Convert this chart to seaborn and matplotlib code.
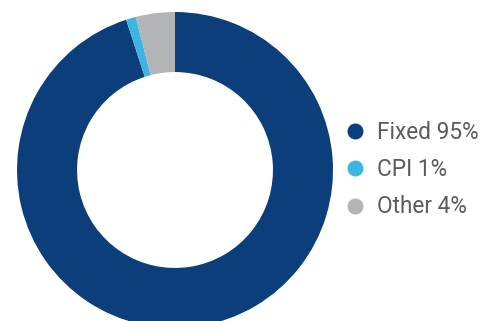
import matplotlib
matplotlib.use("Agg")
import matplotlib.pyplot as plt
from matplotlib.lines import Line2D
import seaborn as sns

categories = ["Fixed", "CPI", "Other"]
shares = [95, 1, 4]
colors = ["#0d3e7c", "#3db5e1", "#b2b4b6"]

sns.set_theme(style="white")
plt.rcParams["font.family"] = ["Roboto", "DejaVu Sans"]

fig = plt.figure(figsize=(4.82, 3.21), dpi=100)
W, H = 482, 321
cx, cy, r = 175, 170, 158
ax = fig.add_axes([(cx - r) / W, (H - cy - r) / H, 2 * r / W, 2 * r / H])

ax.pie(shares, colors=colors, startangle=90, counterclock=False, radius=1,
       wedgeprops=dict(width=0.38, linewidth=0))
ax.set_xlim(-1, 1)
ax.set_ylim(-1, 1)
ax.set_aspect("equal")
ax.axis("off")

handles = [Line2D([0], [0], marker="o", linestyle="none", markersize=11.5,
                  markerfacecolor=c, markeredgewidth=0) for c in colors]
labels = [f"{c} {v}%" for c, v in zip(categories, shares)]
leg = fig.legend(handles, labels, loc="center left",
                 bbox_to_anchor=(343.9 / W, (H - 169.5) / H),
                 frameon=False, fontsize=16.3, handlelength=1.0,
                 handletextpad=0.45, labelspacing=0.64, borderpad=0,
                 borderaxespad=0)
for t in leg.get_texts():
    t.set_color("#5b5b5b")

fig.savefig("out.png", dpi=100)
